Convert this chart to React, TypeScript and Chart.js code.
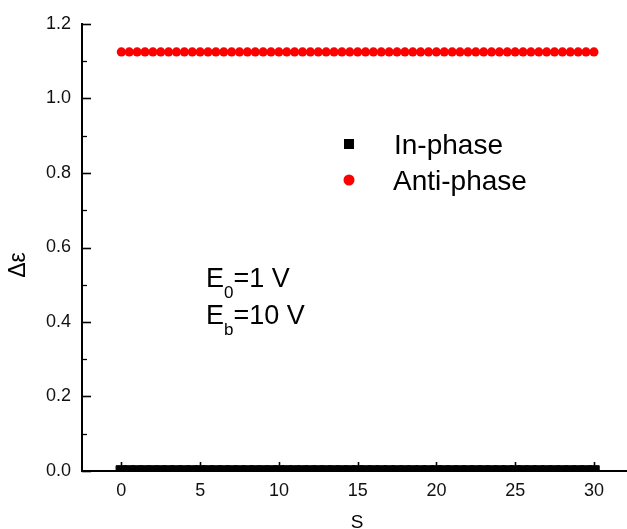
import React, { useEffect, useRef } from 'react';
import { Chart, registerables } from 'chart.js';

Chart.register(...registerables);

const sValues = [
  0, 0.5, 1, 1.5, 2, 2.5, 3, 3.5, 4, 4.5, 5, 5.5, 6, 6.5, 7, 7.5, 8, 8.5, 9, 9.5,
  10, 10.5, 11, 11.5, 12, 12.5, 13, 13.5, 14, 14.5, 15, 15.5, 16, 16.5, 17, 17.5, 18, 18.5, 19, 19.5,
  20, 20.5, 21, 21.5, 22, 22.5, 23, 23.5, 24, 24.5, 25, 25.5, 26, 26.5, 27, 27.5, 28, 28.5, 29, 29.5, 30,
];

const inPhase = [
  0, 0, 0, 0, 0, 0, 0, 0, 0, 0, 0, 0, 0, 0, 0, 0, 0, 0, 0, 0,
  0, 0, 0, 0, 0, 0, 0, 0, 0, 0, 0, 0, 0, 0, 0, 0, 0, 0, 0, 0,
  0, 0, 0, 0, 0, 0, 0, 0, 0, 0, 0, 0, 0, 0, 0, 0, 0, 0, 0, 0, 0,
];

const antiPhase = [
  1.125, 1.125, 1.125, 1.125, 1.125, 1.125, 1.125, 1.125, 1.125, 1.125,
  1.125, 1.125, 1.125, 1.125, 1.125, 1.125, 1.125, 1.125, 1.125, 1.125,
  1.125, 1.125, 1.125, 1.125, 1.125, 1.125, 1.125, 1.125, 1.125, 1.125,
  1.125, 1.125, 1.125, 1.125, 1.125, 1.125, 1.125, 1.125, 1.125, 1.125,
  1.125, 1.125, 1.125, 1.125, 1.125, 1.125, 1.125, 1.125, 1.125, 1.125,
  1.125, 1.125, 1.125, 1.125, 1.125, 1.125, 1.125, 1.125, 1.125, 1.125, 1.125,
];

const xMajorTicks = [0, 5, 10, 15, 20, 25, 30];
const xMinorTicks = [2.5, 7.5, 12.5, 17.5, 22.5, 27.5];
const yMajorTicks = [0, 0.2, 0.4, 0.6, 0.8, 1.0, 1.2];
const yMinorTicks = [0.1, 0.3, 0.5, 0.7, 0.9, 1.1];

const seriesNames = ['In-phase', 'Anti-phase'];
const xTitle = 'S';
const yTitle = 'Δε';
const noteLines = [
  { main: 'E', sub: '0', rest: '=1 V' },
  { main: 'E', sub: 'b', rest: '=10 V' },
];

const FONT = '"Liberation Sans", Arial, sans-serif';

const decorPlugin = {
  id: 'decor',
  afterDraw(chart: any) {
    const { ctx, chartArea, scales } = chart;
    const { left, bottom } = chartArea;
    const x = scales.x;
    const y = scales.y;
    ctx.save();
    ctx.strokeStyle = '#000';
    // x ticks (inward)
    ctx.lineWidth = 1.6;
    xMajorTicks.forEach((v) => {
      const px = Math.round(x.getPixelForValue(v)) + 0.5;
      ctx.beginPath();
      ctx.moveTo(px, bottom);
      ctx.lineTo(px, bottom - 9);
      ctx.stroke();
    });
    ctx.lineWidth = 1.3;
    xMinorTicks.forEach((v) => {
      const px = Math.round(x.getPixelForValue(v)) + 0.5;
      ctx.beginPath();
      ctx.moveTo(px, bottom);
      ctx.lineTo(px, bottom - 5);
      ctx.stroke();
    });
    // y ticks (inward)
    ctx.lineWidth = 1.6;
    yMajorTicks.forEach((v) => {
      const py = Math.round(y.getPixelForValue(v)) + 0.5;
      ctx.beginPath();
      ctx.moveTo(left, py);
      ctx.lineTo(left + 9, py);
      ctx.stroke();
    });
    ctx.lineWidth = 1.3;
    yMinorTicks.forEach((v) => {
      const py = Math.round(y.getPixelForValue(v)) + 0.5;
      ctx.beginPath();
      ctx.moveTo(left, py);
      ctx.lineTo(left + 5, py);
      ctx.stroke();
    });

    // axis titles
    ctx.fillStyle = '#000';
    ctx.font = `19px ${FONT}`;
    ctx.textAlign = 'center';
    ctx.textBaseline = 'alphabetic';
    ctx.fillText(xTitle, 357, 528);
    ctx.save();
    ctx.translate(25, 265);
    ctx.rotate(-Math.PI / 2);
    ctx.font = `23px ${FONT}`;
    ctx.fillText(yTitle, 0, 0);
    ctx.restore();

    // legend
    ctx.fillStyle = '#000';
    ctx.fillRect(344, 139, 10, 10);
    ctx.fillStyle = '#ff0000';
    ctx.beginPath();
    ctx.arc(349, 180, 5.5, 0, Math.PI * 2);
    ctx.fill();
    ctx.fillStyle = '#000';
    ctx.textAlign = 'left';
    ctx.font = `28px ${FONT}`;
    ctx.fillText(seriesNames[0], 394, 154);
    ctx.fillText(seriesNames[1], 393, 190);

    // annotation
    const baselines = [287, 324];
    noteLines.forEach((ln, i) => {
      let cx = 206;
      const by = baselines[i];
      ctx.font = `27px ${FONT}`;
      ctx.fillText(ln.main, cx, by);
      cx += ctx.measureText(ln.main).width;
      ctx.font = `17px ${FONT}`;
      ctx.fillText(ln.sub, cx, by + 11);
      cx += ctx.measureText(ln.sub).width;
      ctx.font = `27px ${FONT}`;
      ctx.fillText(ln.rest, cx, by);
    });
    ctx.restore();
  },
};

export default function App() {
  const canvasRef = useRef<HTMLCanvasElement | null>(null);

  useEffect(() => {
    const canvas = canvasRef.current;
    if (!canvas) return;
    const chart = new Chart(canvas, {
      type: 'scatter',
      data: {
        datasets: [
          {
            label: seriesNames[0],
            data: sValues.map((s, i) => ({ x: s, y: inPhase[i] })),
            backgroundColor: '#000',
            borderColor: '#000',
            borderWidth: 1,
            pointStyle: 'rect',
            pointRadius: 7.5,
            clip: 0,
          },
          {
            label: seriesNames[1],
            data: sValues.map((s, i) => ({ x: s, y: antiPhase[i] })),
            backgroundColor: '#ff0000',
            borderColor: '#ff0000',
            borderWidth: 0,
            pointStyle: 'circle',
            pointRadius: 4.6,
            clip: 0,
          },
        ],
      },
      options: {
        animation: false,
        responsive: false,
        devicePixelRatio: 1,
        layout: { autoPadding: false, padding: { top: 24, right: 0, left: 0, bottom: 0 } },
        plugins: {
          legend: { display: false },
          tooltip: { enabled: false },
        },
        events: [],
        scales: {
          x: {
            type: 'linear',
            min: -2.5,
            max: 32.1,
            grid: { display: false, drawTicks: false },
            border: { display: true, color: '#000', width: 2 },
            afterBuildTicks: (scale: any) => {
              scale.ticks = xMajorTicks.map((v) => ({ value: v }));
            },
            afterFit: (scale: any) => {
              scale.height = 58;
            },
            ticks: {
              padding: 9,
              color: '#111',
              font: { family: FONT, size: 18 },
              maxRotation: 0,
              autoSkip: false,
              callback: (v: any) => String(v),
            },
          },
          y: {
            type: 'linear',
            min: 0,
            max: 1.2,
            grid: { display: false, drawTicks: false },
            border: { display: true, color: '#000', width: 2 },
            afterBuildTicks: (scale: any) => {
              scale.ticks = yMajorTicks.map((v) => ({ value: v }));
            },
            afterFit: (scale: any) => {
              scale.width = 82;
            },
            ticks: {
              padding: 11,
              color: '#111',
              font: { family: FONT, size: 18 },
              autoSkip: false,
              callback: (v: any) => Number(v).toFixed(1),
            },
          },
        },
      },
      plugins: [decorPlugin],
    });
    return () => chart.destroy();
  }, []);

  return (
    <div style={{ position: 'fixed', left: 0, top: 0, width: 627, height: 529, background: '#fff' }}>
      <canvas ref={canvasRef} width={627} height={529} style={{ display: 'block' }} />
    </div>
  );
}
